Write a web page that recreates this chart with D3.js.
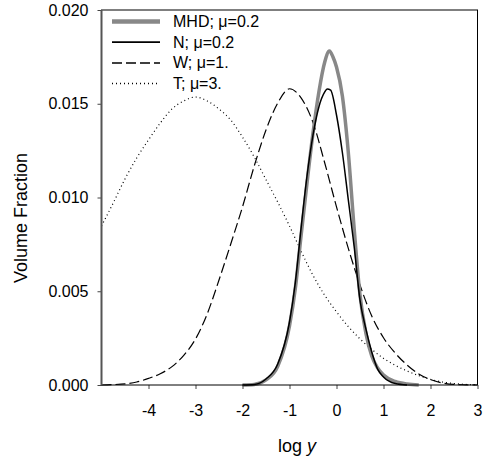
<!DOCTYPE html>
<html>
<head>
<meta charset="utf-8">
<script src="https://cdn.jsdelivr.net/npm/d3@7"></script>
<style>
  html, body { margin: 0; padding: 0; background: #fff; }
  svg text { font-family: "Liberation Sans", Arial, sans-serif; fill: #000; }
</style>
</head>
<body>
<div id="chart"></div>
<script>
// Volume fraction vs log y for four models
const tLogY = [-5, -4.75, -4.5, -4.25, -4, -3.75, -3.5, -3.25, -3, -2.75, -2.5, -2.25, -2, -1.75, -1.5, -1.25,
  -1, -0.75, -0.5, -0.25, 0, 0.25, 0.5, 0.75, 1, 1.25, 1.5, 1.75, 2, 2.25, 2.5, 2.75, 3];
const tVals = [0.00848, 0.00971, 0.01099, 0.01211, 0.01307, 0.01397, 0.01472, 0.01515, 0.01536, 0.01515, 0.01472,
  0.01413, 0.01322, 0.01216, 0.01095, 0.00975, 0.00848, 0.00712, 0.00585, 0.00478, 0.00390, 0.00312, 0.00246,
  0.00190, 0.00142, 0.00105, 0.00075, 0.00050, 0.00030, 0.00016, 0.00008, 0.00003, 0.00001];

const wLogY = [-5, -4.75, -4.5, -4.25, -4, -3.75, -3.5, -3.25, -3, -2.75, -2.5, -2.25, -2, -1.75, -1.5, -1.25,
  -1, -0.75, -0.5, -0.25, 0, 0.25, 0.5, 0.75, 1, 1.25, 1.5, 1.75, 2, 2.25, 2.5, 2.75, 3];
const wVals = [0, 0.00002, 0.00006, 0.00016, 0.00035, 0.00060, 0.00098, 0.00158, 0.00245, 0.00380, 0.00560,
  0.00752, 0.00950, 0.01168, 0.01360, 0.01504, 0.01580, 0.01530, 0.01400, 0.01184, 0.00950, 0.00730, 0.00533,
  0.00368, 0.00252, 0.00170, 0.00107, 0.00059, 0.00029, 0.00011, 0.00003, 0.00001, 0];

const nLogY = [-2, -1.75, -1.5, -1.25, -1, -0.875, -0.75, -0.625, -0.5, -0.375, -0.25, -0.2, -0.125, 0,
  0.125, 0.25, 0.375, 0.5, 0.625, 0.75, 0.875, 1, 1.25, 1.5];
const nVals = [0, 0.00003, 0.00032, 0.00112, 0.00336, 0.00549, 0.00845, 0.01120, 0.01333, 0.01483, 0.01563,
  0.01579, 0.01573, 0.01440, 0.01240, 0.00990, 0.00740, 0.00453, 0.00299, 0.00176, 0.00085, 0.00043, 0.00008, 0];

const mhdLogY = [-2, -1.75, -1.5, -1.25, -1, -0.875, -0.75, -0.625, -0.5, -0.375, -0.25, -0.15, -0.075, 0,
  0.125, 0.25, 0.375, 0.5, 0.625, 0.75, 0.875, 1, 1.25, 1.5, 1.75];
const mhdVals = [0, 0.00003, 0.00027, 0.00100, 0.00315, 0.00517, 0.00805, 0.01083, 0.01344, 0.01563, 0.01723,
  0.01781, 0.01749, 0.01696, 0.01541, 0.01243, 0.00837, 0.00480, 0.00277, 0.00155, 0.00091, 0.00053, 0.00019,
  0.00005, 0];

const legendLabels = ['MHD; μ=0.2', 'N; μ=0.2', 'W; μ=1.', 'T; μ=3.'];
const xTicks = [-4, -3, -2, -1, 0, 1, 2, 3];
const yTicks = [0, 0.005, 0.010, 0.015, 0.020];

const width = 498, height = 468;
const MARGIN = { top: 10, right: 20.5, bottom: 83, left: 101.5 };
const innerW = width - MARGIN.left - MARGIN.right;
const innerH = height - MARGIN.top - MARGIN.bottom;

const svg = d3.select('#chart').append('svg')
  .attr('width', width)
  .attr('height', height);

const g = svg.append('g')
  .attr('transform', `translate(${MARGIN.left},${MARGIN.top})`);

const x = d3.scaleLinear().domain([-5, 3]).range([0, innerW]);
const y = d3.scaleLinear().domain([0, 0.02]).range([innerH, 0]);

const series = [
  { xs: tLogY, vs: tVals, stroke: '#000', width: 1.2, dash: '1,3' },
  { xs: wLogY, vs: wVals, stroke: '#000', width: 1.2, dash: '10,4' },
  { xs: mhdLogY, vs: mhdVals, stroke: '#888', width: 3.5, dash: null },
  { xs: nLogY, vs: nVals, stroke: '#000', width: 1.5, dash: null },
];

const line = d3.line()
  .x(d => x(d[0]))
  .y(d => y(d[1]))
  .curve(d3.curveMonotoneX);

series.forEach(s => {
  g.append('path')
    .datum(s.xs.map((v, i) => [v, s.vs[i]]))
    .attr('fill', 'none')
    .attr('stroke', s.stroke)
    .attr('stroke-width', s.width)
    .attr('stroke-dasharray', s.dash)
    .attr('d', line);
});

// axes
const xAxis = g.append('g')
  .attr('transform', `translate(0,${innerH})`)
  .call(d3.axisBottom(x).tickValues(xTicks).tickSize(4).tickSizeOuter(0).tickPadding(16)
    .tickFormat(d3.format('d')));
xAxis.select('.domain').remove();

const yAxis = g.append('g')
  .call(d3.axisLeft(y).tickValues(yTicks).tickSize(4).tickSizeOuter(0).tickPadding(9)
    .tickFormat(d3.format('.3f')));
yAxis.select('.domain').remove();

[xAxis, yAxis].forEach(a => {
  a.selectAll('text').style('font-size', '16px').style('font-family', '"Liberation Sans", Arial, sans-serif');
  a.selectAll('line').attr('stroke', '#444');
});
xAxis.selectAll('text').text(d => d < 0 ? '-' + Math.abs(d) : d);

// frame
g.append('rect')
  .attr('width', innerW).attr('height', innerH)
  .attr('fill', 'none').attr('stroke', '#000').attr('stroke-width', 1);
g.append('line')
  .attr('x1', 0).attr('x2', 0).attr('y1', 0).attr('y2', innerH)
  .attr('stroke', '#555').attr('stroke-width', 2);

// axis titles
svg.append('text')
  .attr('transform', `translate(27,218) rotate(-90)`)
  .attr('text-anchor', 'middle')
  .style('font-size', '18px')
  .text('Volume Fraction');

const xt = svg.append('text')
  .attr('x', 297).attr('y', 452)
  .attr('text-anchor', 'middle')
  .style('font-size', '18px');
xt.append('tspan').text('log ');
xt.append('tspan').style('font-style', 'italic').text('y');

// legend
const legend = svg.append('g');
const legendOrder = [2, 3, 1, 0];
legendLabels.forEach((label, i) => {
  const s = series[legendOrder[i]];
  const ly = 21.5 + i * 20.7;
  legend.append('line')
    .attr('x1', 112).attr('x2', 160).attr('y1', ly).attr('y2', ly)
    .attr('stroke', s.stroke)
    .attr('stroke-width', i === 0 ? 4.5 : s.width + 0.3)
    .attr('stroke-dasharray', s.dash);
  legend.append('text')
    .attr('x', 173).attr('y', ly + 5.5)
    .style('font-size', '16px')
    .text(label);
});
</script>
</body>
</html>
